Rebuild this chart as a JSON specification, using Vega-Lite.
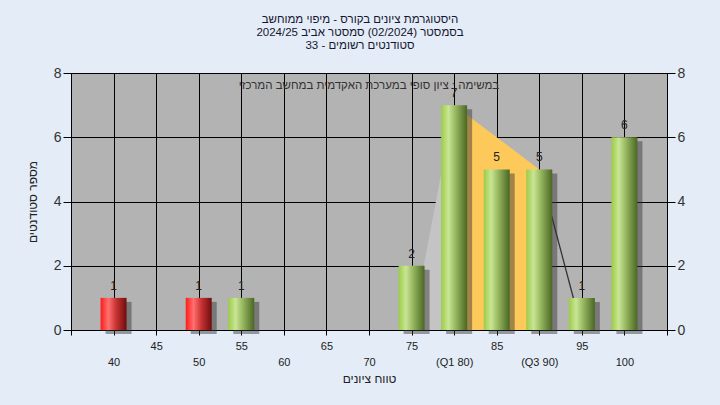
{
  "$schema": "https://vega.github.io/schema/vega-lite/v6.json",
  "width": 596,
  "height": 257,
  "autosize": {"type": "none"},
  "padding": {"left": 71, "top": 73, "right": 53, "bottom": 75},
  "background": "#e3ecf7",
  "title": {
    "text": ["היסטוגרמת ציונים בקורס - מיפוי ממוחשב", "בסמסטר  (02/2024)  סמסטר אביב 2024/25", "סטודנטים רשומים - 33"],
    "fontSize": 11.5,
    "fontWeight": "normal",
    "color": "#161630",
    "font": "Liberation Sans",
    "lineHeight": 13,
    "anchor": "middle",
    "offset": 15,
    "dx": -9
  },
  "config": {
    "view": {"fill": "#b3b3b3", "stroke": "#000000", "strokeWidth": 1},
    "font": "Liberation Sans",
    "axis": {"labelFont": "Liberation Sans", "titleFont": "Liberation Sans"}
  },
  "datasets": {
    "bars": [
      {"score": 40, "count": 1, "pass": false},
      {"score": 50, "count": 1, "pass": false},
      {"score": 55, "count": 1, "pass": true},
      {"score": 75, "count": 2, "pass": true},
      {"score": 80, "count": 7, "pass": true},
      {"score": 85, "count": 5, "pass": true},
      {"score": 90, "count": 5, "pass": true},
      {"score": 95, "count": 1, "pass": true},
      {"score": 100, "count": 6, "pass": true}
    ],
    "low": [{"x": 75, "y": 0}, {"x": 80, "y": 7}],
    "iqr": [{"x": 80, "y": 7}, {"x": 90, "y": 5}],
    "high": [{"x": 90, "y": 5}, {"x": 95, "y": 0}],
    "note": [{"x": 70, "y": 7.6, "t": "במשימה : ציון סופי במערכת האקדמית במחשב המרכזי"}]
  },
  "layer": [
    {
      "data": {"name": "low"},
      "mark": {"type": "area", "color": "#c4c4c4"},
      "encoding": {
        "x": {"field": "x", "type": "quantitative", "scale": {"domain": [35, 105], "nice": false, "zero": false, "padding": 0}, "axis": null},
        "y": {"field": "y", "type": "quantitative", "scale": {"domain": [0, 8], "nice": false, "padding": 0}, "axis": null}
      }
    },
    {
      "data": {"name": "iqr"},
      "mark": {"type": "area", "color": "#fdc95a"},
      "encoding": {
        "x": {"field": "x", "type": "quantitative", "axis": null},
        "y": {"field": "y", "type": "quantitative", "axis": null}
      }
    },
    {
      "data": {"name": "high"},
      "mark": {"type": "line", "color": "#333333", "strokeWidth": 1.3},
      "encoding": {
        "x": {"field": "x", "type": "quantitative", "axis": null},
        "y": {"field": "y", "type": "quantitative", "axis": null}
      }
    },
    {
      "data": {"name": "bars"},
      "mark": {"type": "bar", "size": 26, "color": "#303030", "opacity": 0.45, "xOffset": 5, "yOffset": 4},
      "encoding": {
        "x": {"field": "score", "type": "quantitative", "axis": null},
        "y": {"field": "count", "type": "quantitative", "axis": null}
      }
    },
    {
      "data": {"name": "bars"},
      "transform": [{"filter": "datum.pass"}],
      "mark": {
        "type": "bar",
        "size": 26,
        "color": {
          "gradient": "linear", "x1": 0, "x2": 1, "y1": 0, "y2": 0,
          "stops": [
            {"offset": 0, "color": "#9ccc44"},
            {"offset": 0.28, "color": "#c9e596"},
            {"offset": 0.55, "color": "#98b860"},
            {"offset": 1, "color": "#4a6624"}
          ]
        }
      },
      "encoding": {
        "x": {
          "field": "score", "type": "quantitative",
          "axis": {
            "values": [35, 40, 45, 50, 55, 60, 65, 70, 75, 80, 85, 90, 95, 100, 105],
            "grid": true, "gridColor": "#000000", "gridOpacity": 1, "gridWidth": 1,
            "tickColor": "#000000", "tickSize": 5, "domainColor": "#000000",
            "labelExpr": "(datum.value % 10 == 5 && datum.value > 40 && datum.value < 100) ? datum.label : ''",
            "labelFontSize": 11, "labelColor": "#222222", "labelPadding": 5,
            "labelOverlap": false, "labelFlush": false, "title": null, "orient": "bottom"
          }
        },
        "y": {
          "field": "count", "type": "quantitative",
          "axis": {
            "values": [0, 2, 4, 6, 8],
            "grid": true, "gridColor": "#000000", "gridOpacity": 1, "gridWidth": 1,
            "tickColor": "#000000", "tickSize": 8, "domainColor": "#000000",
            "labelFontSize": 14, "labelColor": "#333333", "labelPadding": 2,
            "title": "מספר סטודנטים", "titleFontSize": 12, "titleFontWeight": "normal",
            "titleColor": "#222222", "titlePadding": 14, "orient": "left"
          }
        }
      }
    },
    {
      "data": {"name": "bars"},
      "transform": [{"filter": "!datum.pass"}],
      "mark": {
        "type": "bar",
        "size": 26,
        "color": {
          "gradient": "linear", "x1": 0, "x2": 1, "y1": 0, "y2": 0,
          "stops": [
            {"offset": 0, "color": "#ff1a1a"},
            {"offset": 0.3, "color": "#ff7070"},
            {"offset": 0.6, "color": "#c83232"},
            {"offset": 1, "color": "#6e0e0e"}
          ]
        }
      },
      "encoding": {
        "x": {"field": "score", "type": "quantitative", "axis": null},
        "y": {"field": "count", "type": "quantitative", "axis": null}
      }
    },
    {
      "data": {"name": "bars"},
      "mark": {"type": "text", "dy": -12, "fontSize": 12, "color": "#222222", "baseline": "middle"},
      "encoding": {
        "x": {
          "field": "score", "type": "quantitative",
          "axis": {
            "values": [40, 50, 60, 70, 80, 90, 100],
            "grid": false, "ticks": false, "tickSize": 0, "domain": false,
            "labelExpr": "datum.value == 80 ? '(Q1 80)' : datum.value == 90 ? '(Q3 90)' : datum.label",
            "labelPadding": 26, "labelFontSize": 11, "labelColor": "#222222",
            "labelOverlap": false, "labelFlush": false,
            "title": "טווח ציונים", "titleFontSize": 12, "titleFontWeight": "normal",
            "titleColor": "#222222", "titlePadding": 6, "orient": "bottom"
          }
        },
        "y": {
          "field": "count", "type": "quantitative",
          "axis": {
            "values": [0, 2, 4, 6, 8], "grid": false, "orient": "right",
            "tickColor": "#000000", "tickSize": 8, "domainColor": "#000000",
            "labelFontSize": 14, "labelColor": "#333333", "labelPadding": 2, "title": null
          }
        },
        "text": {"field": "count", "type": "quantitative"}
      }
    },
    {
      "data": {"name": "note"},
      "mark": {"type": "text", "fontSize": 11.5, "color": "#333333", "baseline": "middle", "align": "center"},
      "encoding": {
        "x": {"field": "x", "type": "quantitative", "axis": null},
        "y": {"field": "y", "type": "quantitative", "axis": null},
        "text": {"field": "t"}
      }
    }
  ],
  "resolve": {"axis": {"x": "independent", "y": "independent"}}
}
